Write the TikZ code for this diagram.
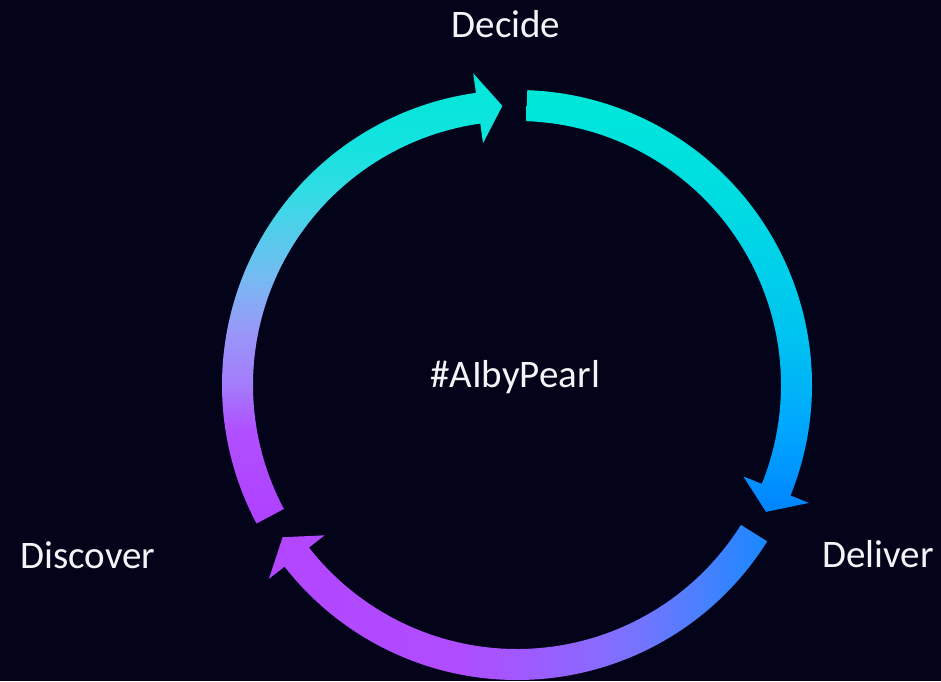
\documentclass[tikz,border=0pt]{standalone}
\usepackage{fontspec}
\setmainfont{Carlito}
\usepackage{xcolor}
\definecolor{bgnavy}{HTML}{03041A}
\definecolor{txt}{HTML}{F4F4F8}
% top-right arrow, bottom to top
\definecolor{c1a}{HTML}{0084FF}
\definecolor{c1b}{HTML}{00A6FF}
\definecolor{c1c}{HTML}{00B4F6}
\definecolor{c1d}{HTML}{00C4F0}
\definecolor{c1e}{HTML}{00DCE2}
\definecolor{c1f}{HTML}{00E8D8}
% bottom arrow, left to right
\definecolor{c2a}{HTML}{B246FF}
\definecolor{c2b}{HTML}{B04CFF}
\definecolor{c2c}{HTML}{A258FF}
\definecolor{c2d}{HTML}{8C68FF}
\definecolor{c2e}{HTML}{7474FF}
\definecolor{c2f}{HTML}{4A80FF}
\definecolor{c2g}{HTML}{1888FF}
% left arrow, bottom to top
\definecolor{c3a}{HTML}{B040FF}
\definecolor{c3b}{HTML}{B050FF}
\definecolor{c3c}{HTML}{A47CFA}
\definecolor{c3d}{HTML}{9898F8}
\definecolor{c3e}{HTML}{74BCF2}
\definecolor{c3f}{HTML}{30DDE4}
\definecolor{c3g}{HTML}{14E2E0}
\definecolor{c3h}{HTML}{00E8D8}
\pgfdeclareverticalshading{arcone}{100bp}{color(0bp)=(c1a); color(25bp)=(c1a); color(34.7bp)=(c1b);
  color(40bp)=(c1c); color(46.6bp)=(c1d); color(62bp)=(c1e); color(75bp)=(c1f); color(100bp)=(c1f)}
\pgfdeclarehorizontalshading{arctwo}{100bp}{color(0bp)=(c2a); color(25bp)=(c2a); color(43.2bp)=(c2b);
  color(49.9bp)=(c2c); color(57.2bp)=(c2d); color(62.2bp)=(c2e); color(68.3bp)=(c2f); color(75bp)=(c2g); color(100bp)=(c2g)}
\pgfdeclareverticalshading{arcthree}{100bp}{color(0bp)=(c3a); color(25bp)=(c3a); color(35.4bp)=(c3b);
  color(40.4bp)=(c3c); color(46.5bp)=(c3d); color(52.6bp)=(c3e); color(62bp)=(c3f); color(67bp)=(c3g); color(75bp)=(c3h); color(100bp)=(c3h)}
\tikzstyle{lbl}=[text=txt, font=\fontsize{19.5}{23}\selectfont, anchor=base, inner sep=0pt]

\begin{document}
\begin{tikzpicture}[x=0.5pt, y=0.5pt]
    \fill[bgnavy] (0,0) rectangle (941,681);
    \useasboundingbox (0,0) rectangle (941,681);

    \begin{scope}[shift={(517,296)}]
        \foreach \s/\sh in {88/arcone, -32/arctwo, 208/arcthree} {
            \pgfmathsetmacro{\b}{\s-110}
            \pgfmathsetmacro{\t}{\s-115}
            \shade[shading=\sh] (\s:295) arc[start angle=\s, end angle=\b, radius=295]
                -- (\b:314.8) -- (\t:279.5) -- (\b:244.2) -- (\b:264)
                arc[start angle=\b, end angle=\s, radius=264] -- cycle;
        }
    \end{scope}

    \node[lbl] (decide) at (506,643.3) {Decide};
    \node[lbl] (deliver) at (878,113.3) {Deliver};
    \node[lbl] (discover) at (88,112.7) {Discover};
    \node[lbl] (hashtag) at (515,293.7) {\#AIbyPearl};
\end{tikzpicture}
\end{document}
